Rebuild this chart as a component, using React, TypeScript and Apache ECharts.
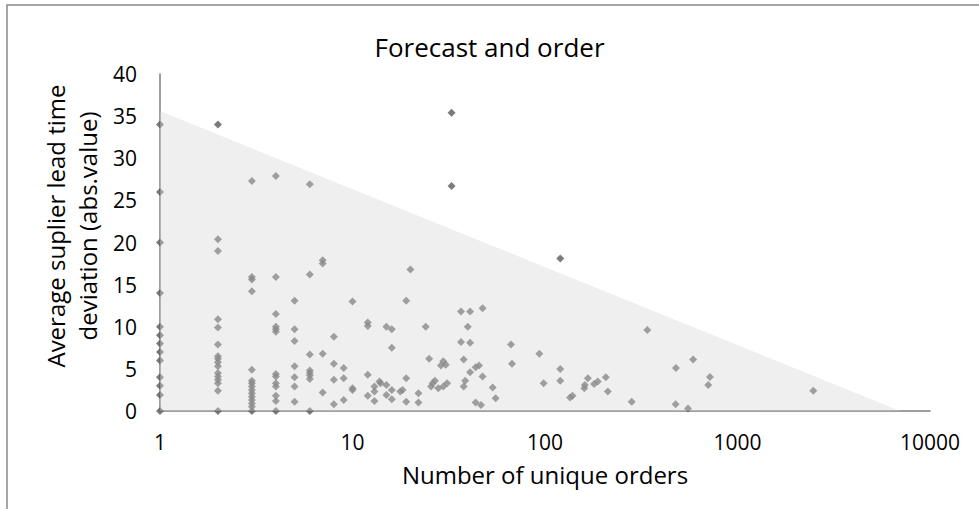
import React, { useEffect, useRef } from "react";
import * as echarts from "echarts";

// Number of unique orders (x, log scale) and average supplier lead time deviation (y)
const orderCounts: number[] = [
  1, 1, 1, 1, 1, 1, 1, 1, 1, 1, 1, 1, 1,
  2, 2, 2, 2, 2, 2, 2, 2, 2, 2, 2, 2, 2, 2, 2, 2,
  3, 3, 3, 3, 3, 3, 3, 3, 3, 3, 3, 3, 3, 3, 3,
  4, 4, 4, 4, 4, 4, 4, 4, 4, 4, 4, 4, 4,
  5, 5, 5, 5, 5, 5, 5,
  6, 6, 6, 6, 6, 6, 6, 6,
  7, 7, 7, 7,
  8, 8, 8, 8,
  9, 9, 9,
  10, 10, 10,
  12, 12, 12, 12,
  13, 13, 13, 13.8, 14,
  15, 15, 15,
  16, 16, 16, 16,
  17.7, 18.2,
  19, 19, 19, 20,
  22, 22, 24, 25,
  25.6, 26.1, 26.8, 27.9,
  28.8, 29.6, 30.5, 29.6, 31,
  32.7, 32.7,
  36.6, 40.8, 36.6, 40.8, 39.7, 37.8, 38.5, 37.8, 40.8,
  43.6, 45.4, 47.4, 47.4, 43.6, 46.5,
  53.5, 55.4, 66.6, 67.4,
  93.4, 98.4,
  120, 120, 120,
  135, 139, 160, 161, 167, 180, 188, 207, 212,
  282, 340, 479, 477, 553, 588, 719, 705, 2477,
];

const leadTimeDeviation: number[] = [
  34, 26, 20, 14, 10, 9, 8, 7, 6, 4, 3, 1.9, 0,
  34, 20.4, 19, 10.9, 9.9, 7.9, 6.5, 6.2, 5.8, 5.3, 4.5, 4.1, 3.7, 3.3, 2.4, 0,
  27.3, 15.9, 15.6, 14.2, 4.9, 3.6, 3.3, 2.9, 2.5, 2.1, 1.7, 1.3, 0.9, 0.5, 0,
  27.9, 15.9, 11.5, 10.0, 9.7, 9.4, 4.4, 4.1, 3.3, 2.9, 1.8, 1.2, 0,
  13.1, 9.7, 8.3, 5.3, 4.0, 2.9, 1.1,
  26.9, 16.2, 6.7, 4.8, 4.5, 4.2, 3.8, 0,
  17.9, 17.5, 6.8, 2.2,
  8.8, 5.6, 3.7, 0.8,
  5.1, 3.9, 1.3,
  13.0, 2.7, 2.5,
  10.5, 10.1, 4.3, 1.8,
  2.9, 2.3, 1.2, 3.5, 3.3,
  10.0, 3.1, 1.9,
  9.7, 7.5, 2.5, 1.4,
  2.3, 2.5,
  13.1, 3.9, 1.1, 16.8,
  2.1, 1.0, 10.0, 6.2,
  2.9, 3.3, 3.6, 2.7,
  5.4, 5.9, 5.5, 2.9, 3.3,
  35.4, 26.7,
  11.8, 11.8, 8.2, 8.1, 10.0, 6.1, 3.6, 2.9, 4.6,
  5.2, 5.4, 12.2, 4.1, 1.0, 0.7,
  2.8, 1.5, 7.9, 5.6,
  6.8, 3.3,
  18.1, 5.0, 3.6,
  1.6, 1.8, 2.7, 3.1, 3.9, 3.2, 3.5, 4.0, 2.3,
  1.1, 9.6, 5.1, 0.8, 0.3, 6.1, 4.05, 3.1, 2.4,
];

// Triangular boundary (shaded region)
const boundaryX: number[] = [1, 7000];
const boundaryY: number[] = [35.6, 0];

const xTickLabels: string[] = ["1", "10", "100", "1000", "10000"];
const yTickLabels: string[] = ["0", "5", "10", "15", "20", "25", "30", "35", "40"];

const FONT = "'Open Sans', 'Noto Sans', sans-serif";

export default function App() {
  const ref = useRef<HTMLDivElement>(null);

  useEffect(() => {
    if (!ref.current) return;
    const chart = echarts.init(ref.current, undefined, { renderer: "svg" });
    const points = orderCounts.map((x, i) => [x, leadTimeDeviation[i]]);
    const boundary = boundaryX.map((x, i) => [x, boundaryY[i]]);
    chart.setOption({
      animation: false,
      backgroundColor: "#ffffff",
      title: {
        text: "Forecast and order",
        left: "center",
        top: 29,
        textStyle: { fontFamily: FONT, fontSize: 26, fontWeight: "normal", color: "#000" },
      },
      grid: { left: 160, right: 49, top: 74, bottom: 98, containLabel: false },
      xAxis: {
        type: "log",
        logBase: 10,
        min: 1,
        max: 10000,
        name: "Number of unique orders",
        nameLocation: "middle",
        nameGap: 51,
        nameTextStyle: { fontFamily: FONT, fontSize: 24, color: "#000" },
        axisLine: { show: true, lineStyle: { color: "#7f7f7f", width: 1.5 } },
        axisTick: { show: false },
        splitLine: { show: false },
        minorTick: { show: false },
        axisLabel: {
          margin: 20,
          fontFamily: FONT,
          fontSize: 21,
          color: "#000",
          formatter: (v: number) => {
            const idx = Math.round(Math.log10(v));
            return xTickLabels[idx] ?? String(v);
          },
        },
      },
      yAxis: {
        type: "value",
        min: 0,
        max: 40,
        interval: 5,
        axisLine: { show: true, lineStyle: { color: "#7f7f7f", width: 1.5 } },
        axisTick: { show: false },
        splitLine: { show: false },
        axisLabel: {
          margin: 23,
          fontFamily: FONT,
          fontSize: 21,
          color: "#000",
          formatter: (v: number) => yTickLabels[Math.round(v / 5)] ?? String(v),
        },
      },
      graphic: [
        {
          type: "rect",
          shape: { x: 7, y: 5, width: 1100, height: 700 },
          style: { fill: "none", stroke: "#898989", lineWidth: 1.5 },
          silent: true,
          z: -1,
        },
        {
          type: "text",
          x: 71,
          y: 226,
          rotation: Math.PI / 2,
          style: {
            text: "Average suplier lead time\ndeviation (abs.value)",
            fontFamily: FONT,
            fontSize: 24,
            lineHeight: 32,
            fill: "#000",
            align: "center",
            verticalAlign: "middle",
          },
          silent: true,
        },
      ],
      series: [
        {
          type: "scatter",
          data: points,
          symbol: "diamond",
          symbolSize: 8,
          itemStyle: { color: "#5a5a5a" },
          z: 2,
        },
        {
          type: "line",
          data: boundary,
          symbol: "none",
          lineStyle: { width: 0, opacity: 0 },
          areaStyle: { color: "rgba(214,214,214,0.39)", opacity: 1 },
          z: 5,
          silent: true,
        },
      ],
    });
    return () => chart.dispose();
  }, []);

  return (
    <div
      ref={ref}
      style={{ position: "fixed", left: 0, top: 0, width: 979, height: 509 }}
    />
  );
}
